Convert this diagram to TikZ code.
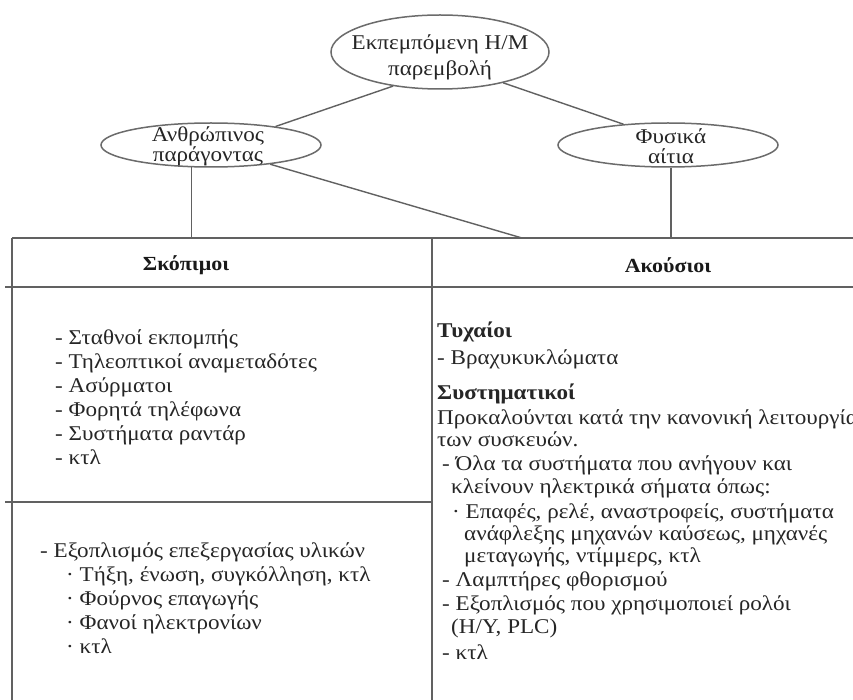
\documentclass[tikz,border=0pt]{standalone}
\usepackage{fontspec}
\setmainfont[FakeStretch=1.1]{Liberation Serif}
\usetikzlibrary{shapes.geometric}
\begin{document}
\begin{tikzpicture}[x=1pt,y=-1pt,
  ln/.style={draw=black!62, line width=1.4pt},
  ell/.style={ellipse, draw=black!58, line width=1.5pt, inner sep=0pt},
  etxt/.style={align=center, inner sep=0pt, text=black!85, font=\fontsize{21}{26}\selectfont},
  stxt/.style={align=center, inner sep=0pt, text=black!85, font=\fontsize{21}{20}\selectfont},
  hdr/.style={inner sep=0pt, text=black!90, font=\bfseries\fontsize{20}{24}\selectfont},
  txt/.style={anchor=base west, inner sep=0pt, text=black!85, font=\fontsize{21}{24}\selectfont},
  btxt/.style={txt, font=\bfseries\fontsize{21}{24}\selectfont}
]
\useasboundingbox (0,0) rectangle (853,700);
\fill[white] (0,0) rectangle (853,700);

% ellipses
\node[ell, minimum width=218pt, minimum height=74pt] (T) at (440,52) {};
\node[etxt] (Tt) at (440,57) {Εκπεμπόμενη Η/Μ\\παρεμβολή};
\node[ell, minimum width=220pt, minimum height=44pt] (L) at (211,145) {};
\node[stxt] (Lt) at (208,146) {Ανθρώπινος\\παράγοντας};
\node[ell, minimum width=220pt, minimum height=44pt] (R) at (668,145) {};
\node[stxt] (Rt) at (671,146) {Φυσικά\\αίτια};

% table coordinates
\coordinate (tt) at (12,238);
\coordinate (diagend) at (522,238);

% connectors
\draw[ln] (T.216) -- (L.16);
\draw[ln] (T.334) -- (R.155);
\draw[ln] (L.229) -- (L.229 |- tt);
\draw[ln] (L.342) -- (diagend);
\draw[ln] ([xshift=3pt]R.south) -- ([xshift=3pt]R.south |- tt);

% table lines
\draw[ln] (12,238) -- (853,238);
\draw[ln] (12,238) -- (12,700);
\draw[ln] (5,287) -- (853,287);
\draw[ln] (432,238) -- (432,700);
\draw[ln] (5,502) -- (432,502);

% headers
\node[hdr] (h1) at (186,265) {Σκόπιμοι};
\node[hdr] (h2) at (668,265) {Ακούσιοι};

% left upper list
\node[txt] (a1) at (55,344) {- Σταθνοί εκπομπής};
\node[txt] (a2) at (55,368) {- Τηλεοπτικοί αναμεταδότες};
\node[txt] (a3) at (55,392) {- Ασύρματοι};
\node[txt] (a4) at (55,416) {- Φορητά τηλέφωνα};
\node[txt] (a5) at (55,440) {- Συστήματα ραντάρ};
\node[txt] (a6) at (55,464) {- κτλ};

% left lower list
\node[txt] (b1) at (40,557) {- Εξοπλισμός επεξεργασίας υλικών};
\node[txt] (b2) at (66,581) {· Τήξη, ένωση, συγκόλληση, κτλ};
\node[txt] (b3) at (66,605) {· Φούρνος επαγωγής};
\node[txt] (b4) at (66,629) {· Φανοί ηλεκτρονίων};
\node[txt] (b5) at (66,653) {· κτλ};

% right list
\node[btxt] (c1) at (437,337) {Τυχαίοι};
\node[txt] (c2) at (437,364) {- Βραχυκυκλώματα};
\node[btxt] (c3) at (437,399) {Συστηματικοί};
\node[txt] (c4) at (437,424) {Προκαλούνται κατά την κανονική λειτουργία};
\node[txt] (c5) at (437,446) {των συσκευών.};
\node[txt] (c6) at (442,470) {- Όλα τα συστήματα που ανήγουν και};
\node[txt] (c7) at (451,493) {κλείνουν ηλεκτρικά σήματα όπως:};
\node[txt] (c8) at (452,518) {· Επαφές, ρελέ, αναστροφείς, συστήματα};
\node[txt] (c9) at (464,540) {ανάφλεξης μηχανών καύσεως, μηχανές};
\node[txt] (c10) at (464,562) {μεταγωγής, ντίμμερς, κτλ};
\node[txt] (c11) at (442,586) {- Λαμπτήρες φθορισμού};
\node[txt] (c12) at (442,610) {- Εξοπλισμός που χρησιμοποιεί ρολόι};
\node[txt] (c13) at (451,633) {(Η/Υ, PLC)};
\node[txt] (c14) at (442,659) {- κτλ};
\end{tikzpicture}
\end{document}
